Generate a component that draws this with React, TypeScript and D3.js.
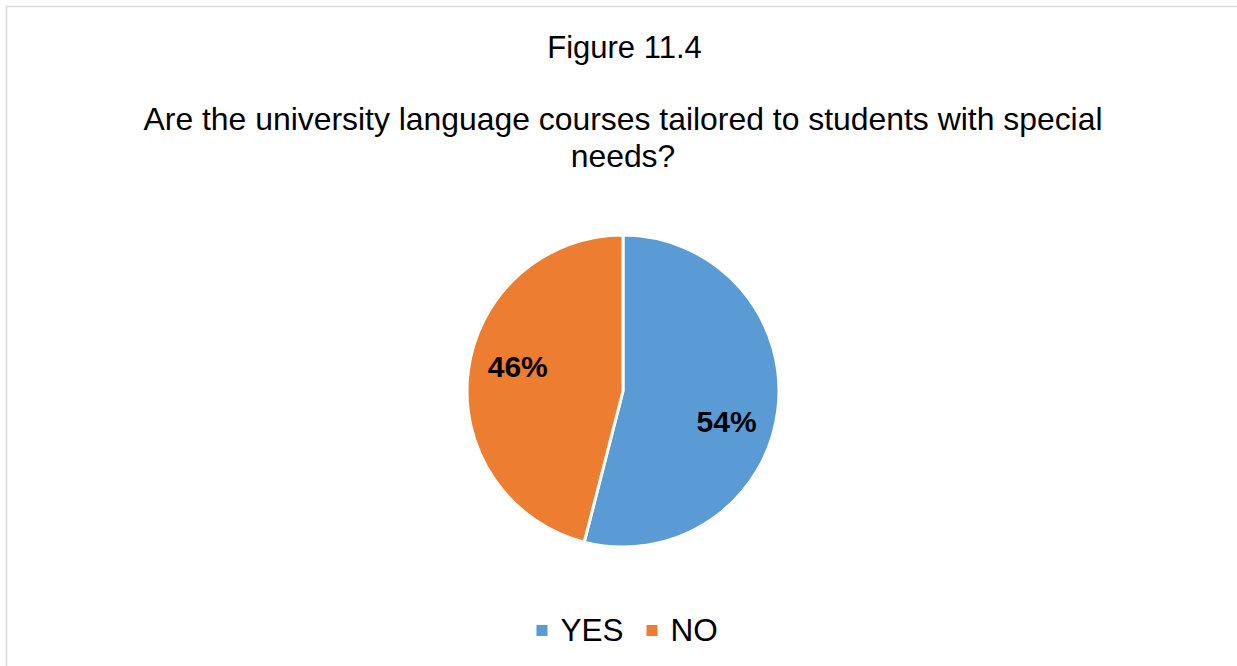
import React from "react";
import * as d3 from "d3";

const categories = ["YES", "NO"];
const values = [54, 46];
const colors = ["#5B9BD5", "#ED7D31"];
const titleText = "Figure 11.4";
const subtitleLines = [
  "Are the university language courses tailored to students with special",
  "needs?",
];

const W = 1237;
const H = 666;
const cx = 623;
const cy = 391;
const R = 156;
const labelR = 108;
const labelAngleShift = [0.16, 0.1];

export default function App() {
  const pie = d3.pie<number>().sort(null).value((d) => d)(values);
  const arc = d3.arc<d3.PieArcDatum<number>>().innerRadius(0).outerRadius(R);
  const font = "'Liberation Sans', Arial, sans-serif";

  // legend layout
  const legendFont = 31.5;
  const sq = 11;
  const gapSqText = 13;
  const gapItems = 23;
  const widths = categories.map((c) => c.length * legendFont * 0.667);
  const itemW = widths.map((w) => sq + gapSqText + w);
  const totalW = itemW.reduce((a, b) => a + b, 0) + gapItems * (categories.length - 1);
  let lx = W / 2 - totalW / 2 + 6;
  const legendItems = categories.map((c, i) => {
    const x = lx;
    lx += itemW[i] + gapItems;
    return { c, x, color: colors[i] };
  });

  return (
    <svg
      width={W}
      height={H}
      style={{ position: "absolute", left: 0, top: 0, fontFamily: font }}
    >
      <rect x={0} y={0} width={W} height={H} fill="#fff" />
      <rect
        x={6.5}
        y={6.5}
        width={W + 20}
        height={H + 20}
        fill="#fff"
        stroke="#d9d9d9"
        strokeWidth={1.5}
      />
      <text x={W / 2 + 6} y={58} textAnchor="middle" fontSize={31} fill="#000">
        {titleText}
      </text>
      {subtitleLines.map((l, i) => (
        <text
          key={i}
          x={W / 2 + 4.5}
          y={130 + i * 37}
          textAnchor="middle"
          fontSize={31.9}
          fill="#000"
        >
          {l}
        </text>
      ))}
      <g transform={`translate(${cx},${cy})`}>
        {pie.map((p, i) => (
          <path key={i} d={arc(p) || ""} fill={colors[i]} stroke="#fff" strokeWidth={3} strokeLinejoin="round" />
        ))}
        {pie.map((p, i) => {
          const a = (p.startAngle + p.endAngle) / 2 + labelAngleShift[i];
          const x = labelR * Math.sin(a);
          const y = -labelR * Math.cos(a);
          return (
            <text
              key={"l" + i}
              x={x}
              y={y + 10.5}
              textAnchor="middle"
              fontSize={30}
              fontWeight="bold"
              fill="#000"
            >
              {Math.round(values[i])}%
            </text>
          );
        })}
      </g>
      {legendItems.map((it, i) => (
        <g key={i}>
          <rect x={it.x} y={625} width={sq} height={sq} fill={it.color} />
          <text x={it.x + sq + gapSqText} y={641} fontSize={legendFont} fill="#000">
            {it.c}
          </text>
        </g>
      ))}
    </svg>
  );
}
